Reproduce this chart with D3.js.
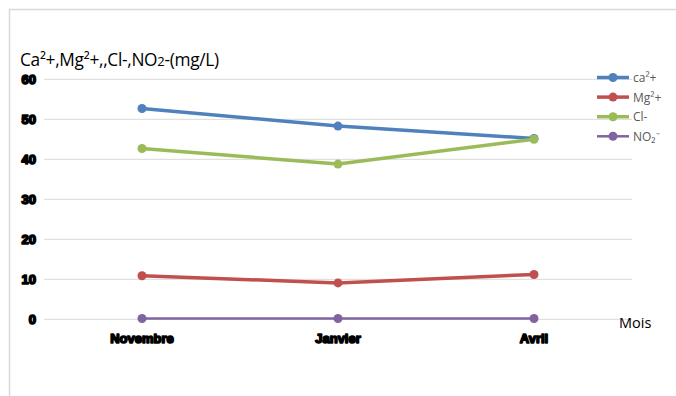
<!DOCTYPE html>
<html><head><meta charset="utf-8">
<script src="https://cdn.jsdelivr.net/npm/d3@7"></script>
<style>body{margin:0;background:#fff;}svg{display:block;}</style>
</head><body>
<svg id="c" width="676" height="396"></svg>
<script>
const categories = ["Novembre", "Janvier", "Avril"];
const ca = [52.7, 48.3, 45.2];
const mg = [10.9, 9.1, 11.2];
const cl = [42.7, 38.8, 45.0];
const no2 = [0.2, 0.2, 0.2];
const yTicks = [0, 10, 20, 30, 40, 50, 60];
const seriesNames = ["ca²+", "Mg²+", "Cl-", "NO₂⁻"];

const series = [
  {name: seriesNames[0], values: ca, color: "#4F81BD", w: 3.5},
  {name: seriesNames[1], values: mg, color: "#C0504D", w: 3.5},
  {name: seriesNames[2], values: cl, color: "#9BBB59", w: 3.5},
  {name: seriesNames[3], values: no2, color: "#8064A2", w: 2.5}
];

const svg = d3.select("#c");
svg.append("rect").attr("x", 9.5).attr("y", 9.5).attr("width", 700).attr("height", 400)
  .attr("fill", "#fff").attr("stroke", "#d9d9d9").attr("stroke-width", 1.5);

const x = d3.scaleBand().domain(categories).range([44, 632]);
const y = d3.scaleLinear().domain([0, 60]).range([319.3, 79.3]);

svg.append("g").selectAll("line").data(yTicks).join("line")
  .attr("x1", 44).attr("x2", 632)
  .attr("y1", d => y(d)).attr("y2", d => y(d))
  .attr("stroke", "#d9d9d9").attr("stroke-width", 1);

const tickStyle = sel => sel.attr("font-family", "'Liberation Sans Narrow', 'Liberation Sans', Arial, sans-serif")
  .attr("font-size", 13).attr("font-weight", "bold").attr("fill", "#000")
  .attr("stroke", "#000").attr("stroke-width", 1.6).attr("paint-order", "stroke")
  .attr("stroke-linejoin", "round");

const yAxis = d3.axisLeft(y).tickValues(yTicks).tickSize(0).tickPadding(0);
const ga = svg.append("g").attr("transform", "translate(36,0)").call(yAxis);
ga.select(".domain").remove();
tickStyle(ga.selectAll("text"));

const xAxis = d3.axisBottom(x).tickSize(0).tickPadding(0);
const gx = svg.append("g").attr("transform", "translate(0,334)").call(xAxis);
gx.select(".domain").remove();
tickStyle(gx.selectAll("text"));

const line = d3.line().x((d, i) => x(categories[i]) + x.bandwidth() / 2).y(d => y(d));
series.forEach(s => {
  svg.append("path").datum(s.values).attr("d", line).attr("fill", "none")
    .attr("stroke", s.color).attr("stroke-width", s.w).attr("stroke-linejoin", "round");
  svg.append("g").selectAll("circle").data(s.values).join("circle")
    .attr("cx", (d, i) => x(categories[i]) + x.bandwidth() / 2).attr("cy", d => y(d))
    .attr("r", 4.5).attr("fill", s.color);
});

const t = svg.append("text").attr("x", 20).attr("y", 66)
  .attr("font-family", "'Open Sans', sans-serif").attr("font-size", 17.3).attr("fill", "#000")
  .attr("letter-spacing", "-0.3");
t.append("tspan").text("Ca²+,Mg²+,,Cl-,NO");
t.append("tspan").attr("font-size", 13).text("2");
t.append("tspan").text("-(mg/L)");

svg.append("text").attr("x", 619).attr("y", 328)
  .attr("font-family", "'Open Sans', sans-serif").attr("font-size", 14.5).attr("fill", "#000").text("Mois");

const leg = svg.append("g");
series.forEach((s, i) => {
  const yy = 77.5 + i * 19.6;
  leg.append("line").attr("x1", 597).attr("x2", 629).attr("y1", yy).attr("y2", yy)
    .attr("stroke", s.color).attr("stroke-width", s.w);
  leg.append("circle").attr("cx", 613).attr("cy", yy).attr("r", 4.5).attr("fill", s.color);
  leg.append("text").attr("x", 633).attr("y", yy + 4.5)
    .attr("font-family", "'Open Sans', sans-serif").attr("font-size", 12)
    .attr("fill", "#595959").text(s.name);
});
</script>
</body></html>
